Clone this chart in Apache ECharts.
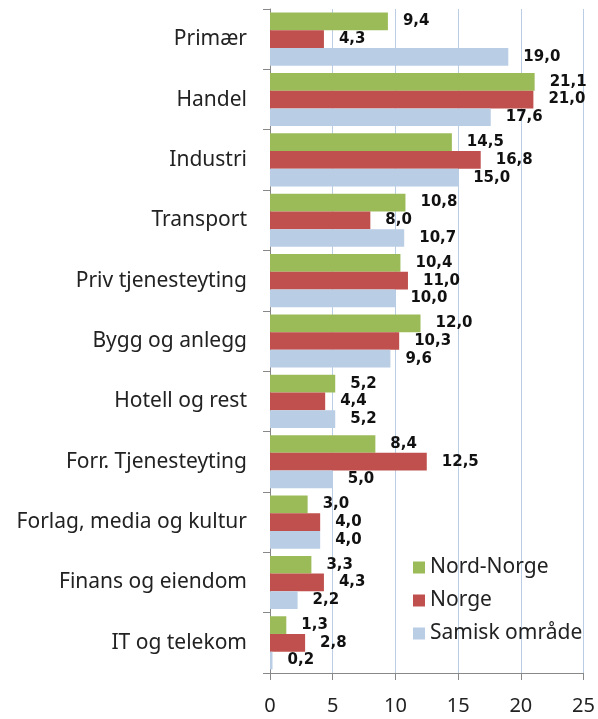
<!DOCTYPE html>
<html>
<head>
<meta charset="utf-8">
<script src="https://cdn.jsdelivr.net/npm/echarts@6/dist/echarts.min.js"></script>
<style>
html,body{margin:0;padding:0;background:#fff;}
#chart{width:598px;height:719px;}
</style>
</head>
<body>
<div id="chart"></div>
<script>
const categories = ["Primær","Handel","Industri","Transport","Priv tjenesteyting","Bygg og anlegg","Hotell og rest","Forr. Tjenesteyting","Forlag, media og kultur","Finans og eiendom","IT og telekom"];
const nordNorge = [9.4,21.1,14.5,10.8,10.4,12.0,5.2,8.4,3.0,3.3,1.3];
const norge = [4.3,21.0,16.8,8.0,11.0,10.3,4.4,12.5,4.0,4.3,2.8];
const samisk = [19.0,17.6,15.0,10.7,10.0,9.6,5.2,5.0,4.0,2.2,0.2];
const seriesNames = ["Nord-Norge","Norge","Samisk område"];
const xTicks = [0,5,10,15,20,25];

const colors = ['#9BBB59','#C0504D','#B9CDE5'];
const fmt = p => p.value.toFixed(1).replace('.', ',');
const labelStyle = {
  show: true, position: 'right', distance: 15, formatter: fmt,
  fontFamily: 'DejaVu Sans', fontWeight: 'bold', fontSize: 15, color: '#111'
};
const chart = echarts.init(document.getElementById('chart'), null, {renderer:'canvas'});
chart.setOption({
  animation: false,
  color: colors,
  grid: {left: 270, right: 13, top: 9, bottom: 46, containLabel: false},
  legend: {
    orient: 'vertical', left: 408, top: 552, itemWidth: 12, itemHeight: 12, itemGap: 12,
    icon: 'rect',
    textStyle: {fontFamily: 'Noto Sans', fontSize: 21, color: '#222'},
    data: seriesNames
  },
  xAxis: {
    type: 'value', min: xTicks[0], max: xTicks[xTicks.length-1], interval: 5,
    axisLine: {show: true, lineStyle: {color: '#888', width: 1}},
    axisTick: {show: true, length: 7, lineStyle: {color: '#888'}},
    axisLabel: {fontFamily: 'Noto Sans', fontSize: 20, color: '#222', margin: 23},
    splitLine: {show: true, lineStyle: {color: '#B9CDE5', width: 1}}
  },
  yAxis: {
    type: 'category', data: categories, inverse: true,
    axisLine: {show: true, lineStyle: {color: '#888', width: 1}},
    axisTick: {show: true, length: 7, lineStyle: {color: '#888'}},
    axisLabel: {fontFamily: 'Noto Sans', fontSize: 21, color: '#222', margin: 23}
  },
  series: [
    {name: seriesNames[0], type: 'bar', data: nordNorge, barGap: '0%', barCategoryGap: '12%', label: labelStyle},
    {name: seriesNames[1], type: 'bar', data: norge, barGap: '0%', barCategoryGap: '12%', label: labelStyle},
    {name: seriesNames[2], type: 'bar', data: samisk, barGap: '0%', barCategoryGap: '12%', label: labelStyle}
  ]
});
</script>
</body>
</html>
